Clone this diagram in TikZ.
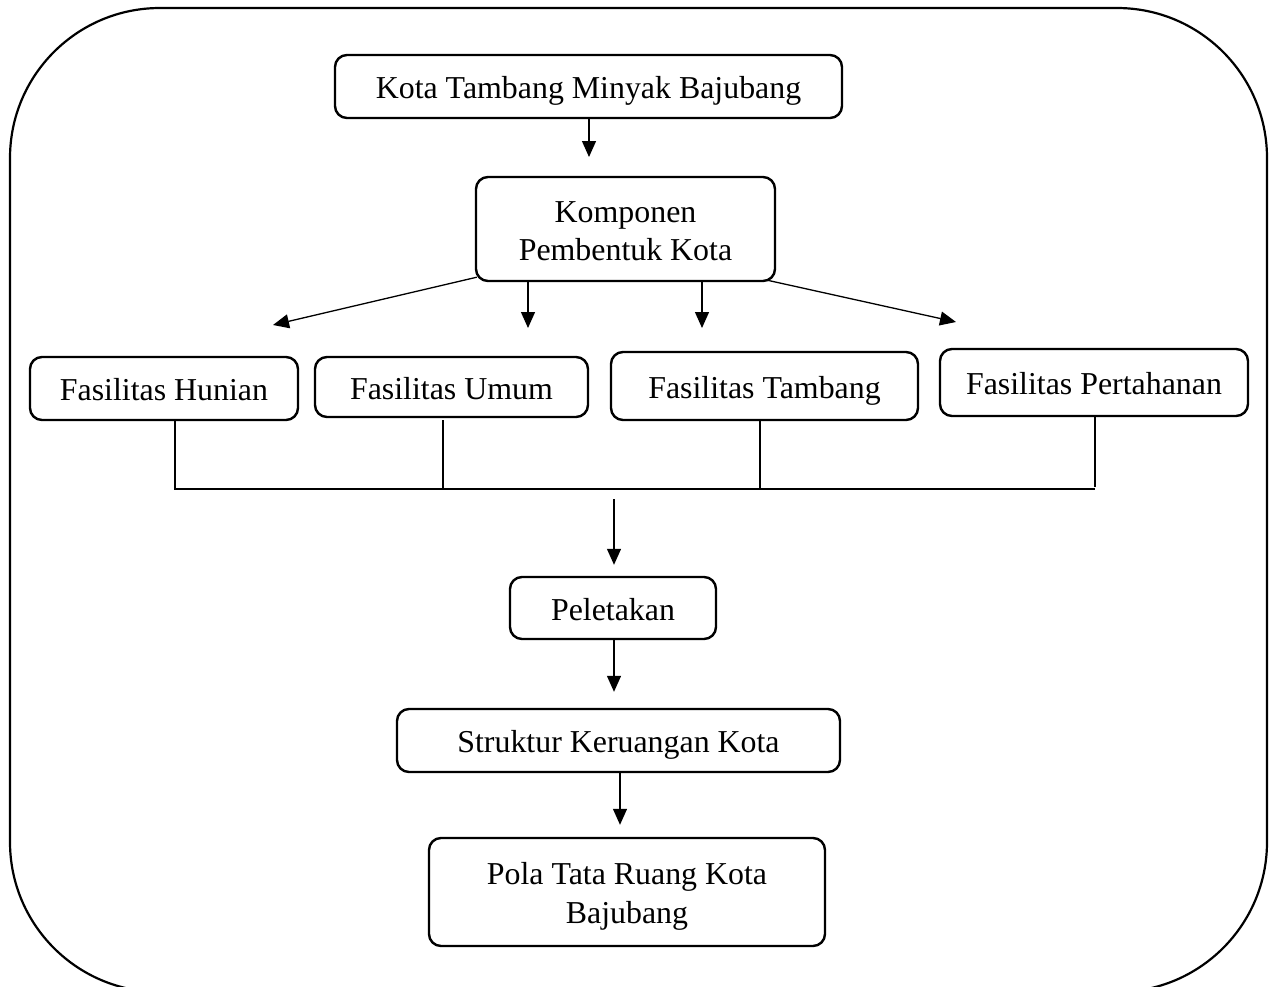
\documentclass[tikz,border=0pt]{standalone}
\usepackage{fontspec}
\setmainfont{Liberation Serif}
\usetikzlibrary{arrows.meta,calc}
\tikzset{
  box/.style={draw, line width=2.4bp, rounded corners=12bp, inner sep=0pt, align=center,
    font=\fontsize{32}{38}\selectfont, text height=24bp, text depth=0bp},
  twoline/.style={text height=#1},
  arr/.style={line width=1.3bp, -{Triangle[length=16bp,width=14bp]}},
  link/.style={line width=1.1bp},
  frame/.style={draw, line width=2.2bp, rounded corners=150bp}
}
\begin{document}
\begin{tikzpicture}[x=1bp,y=-1bp]
\useasboundingbox (0,0) rectangle (1273,987);
\draw[frame] (10,8) rectangle (1267,992);

\node[box, minimum width=507bp, minimum height=63bp] (kota) at (588.5,86.5) {Kota Tambang Minyak Bajubang};
\node[box, twoline=62bp, minimum width=299bp, minimum height=104bp] (komp) at (625.5,229) {Komponen\\Pembentuk Kota};
\node[box, minimum width=268bp, minimum height=63bp] (hun) at (164,388.5) {Fasilitas Hunian};
\node[box, minimum width=273bp, minimum height=60bp] (umum) at (451.5,387) {Fasilitas Umum};
\node[box, minimum width=307bp, minimum height=68bp] (tamb) at (764.5,386) {Fasilitas Tambang};
\node[box, minimum width=308bp, minimum height=67bp] (pert) at (1094,382.5) {Fasilitas Pertahanan};
\node[box, minimum width=206bp, minimum height=62bp] (pel) at (613,608) {Peletakan};
\node[box, minimum width=443bp, minimum height=63bp] (struk) at (618.5,740.5) {Struktur Keruangan Kota};
\node[box, twoline=63bp, font=\fontsize{32}{39}\selectfont, minimum width=396bp, minimum height=108bp] (pola) at (627,892) {Pola Tata Ruang Kota\\Bajubang};

% arrows top
\coordinate (a1) at (589,157);
\draw[arr] (kota.south -| a1) -- (a1);

\coordinate (t1) at (273,325);
\coordinate (t2) at (528,328);
\coordinate (t3) at (702,328);
\coordinate (t4) at (956,322);
\draw[arr] ($(komp.south west)+(2,-5)$) -- (t1);
\draw[arr] (t2 |- komp.south) -- (t2);
\draw[arr] (t3 |- komp.south) -- (t3);
\draw[arr] ($(komp.south east)+(-9,-2)$) -- (t4);

% collector
\coordinate (j1) at (175,489);
\coordinate (j2) at (443,489);
\coordinate (j3) at (760,489);
\coordinate (j4) at (1095,489);
\coordinate (j4e) at (1095,487);
\draw[link] (j1 |- hun.south) -- (j1) -- (j4);
\draw[link] ($(j2 |- umum.south)+(0,2)$) -- (j2);
\draw[link] (j3 |- tamb.south) -- (j3);
\draw[link] (j4e |- pert.south) -- (j4e);

\coordinate (m1) at (614,499);
\draw[arr, shorten >=11bp] (m1) -- (m1 |- pel.north);
\draw[arr, shorten >=16bp] ($(pel.south)+(1,0)$) -- ($(pel.south |- struk.north)+(1,0)$);
\draw[arr, shorten >=12bp] ($(struk.south)+(1.5,0)$) -- ($(struk.south |- pola.north)+(1.5,0)$);
\end{tikzpicture}
\end{document}
